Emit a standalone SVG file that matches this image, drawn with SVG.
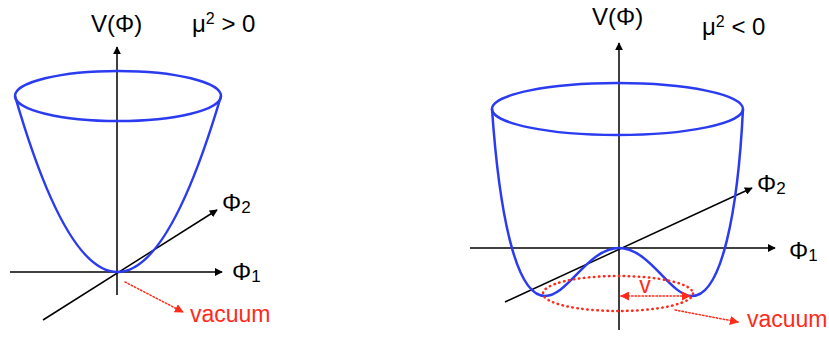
<svg xmlns="http://www.w3.org/2000/svg" width="829" height="340" viewBox="0 0 829 340">
<style>
.axis{stroke:#000;stroke-width:1.5;fill:none}
.curve{stroke:#2b3bf0;stroke-width:2.5;fill:none}
.red{stroke:#ff2a1a;fill:none;stroke-linecap:round}
text{font-family:"Liberation Sans",Arial,sans-serif;fill:#000}
.lbl{font-size:24px}
.vac{font-size:23px;fill:#ff2a1a}
</style>
<defs>
<marker id="ah" viewBox="0 0 10 10" refX="9" refY="5" markerWidth="8" markerHeight="8" markerUnits="userSpaceOnUse" orient="auto">
<path d="M0,0 L10,5 L0,10 z" fill="#000"/>
</marker>
<marker id="rh" viewBox="0 0 10 10" refX="9" refY="5" markerWidth="9" markerHeight="9" markerUnits="userSpaceOnUse" orient="auto-start-reverse">
<path d="M0,0 L10,5 L0,10 z" fill="#ff2a1a"/>
</marker>
</defs>
<g id="left">
<g id="left-axes">
<line class="axis" x1="117" y1="295" x2="117" y2="47" marker-end="url(#ah)"/>
<line class="axis" x1="10" y1="272" x2="222" y2="272" marker-end="url(#ah)"/>
<line class="axis" x1="43" y1="320" x2="217" y2="210" marker-end="url(#ah)"/>
</g>
<g id="left-bowl">
<ellipse class="curve" cx="118" cy="96" rx="103" ry="25"/>
<path class="curve" d="M15,96 Q117,448 221,96"/>
</g>
<g id="left-vacuum">
<line class="red" x1="125" y1="282" x2="183" y2="312" stroke-width="1.5" stroke-dasharray="1.5,2" marker-end="url(#rh)"/>
<text class="vac" x="190" y="322">vacuum</text>
</g>
<text class="lbl" x="91" y="32">V(Φ)</text>
<text class="lbl" x="192" y="32">μ<tspan font-size="16" dy="-8">2</tspan><tspan dy="8"> &gt; 0</tspan></text>
<text class="lbl" x="222" y="211">Φ<tspan font-size="17" dy="2">2</tspan></text>
<text class="lbl" x="232" y="280">Φ<tspan font-size="17" dy="2">1</tspan></text>
</g>
<g id="right">
<g id="right-axes">
<line class="axis" x1="619" y1="330" x2="619" y2="43" marker-end="url(#ah)"/>
<line class="axis" x1="470" y1="248" x2="775" y2="248" marker-end="url(#ah)"/>
<line class="axis" x1="505" y1="302" x2="752" y2="188" marker-end="url(#ah)"/>
</g>
<g id="right-bowl">
<ellipse class="curve" cx="617.5" cy="109" rx="125.5" ry="26"/>
<path class="curve" d="M492,109 C499,210 515,296 545,296 C568,296 588,248 619,248 C650,248 670,296 692,296 C722,296 738,210 743,109"/>
</g>
<g id="right-vacuum">
<ellipse class="red" cx="618" cy="293.5" rx="75" ry="17.5" stroke-width="2.5" stroke-dasharray="0.5,4.5"/>
<line class="red" x1="621" y1="296" x2="690" y2="296" stroke-width="1.5" stroke-dasharray="1.5,2" marker-start="url(#rh)" marker-end="url(#rh)"/>
<text class="vac" x="645" y="293" text-anchor="middle" font-size="20">v</text>
<line class="red" x1="675" y1="310" x2="738" y2="322" stroke-width="1.5" stroke-dasharray="1.5,2" marker-end="url(#rh)"/>
<text class="vac" x="747" y="327">vacuum</text>
</g>
<text class="lbl" x="592" y="25">V(Φ)</text>
<text class="lbl" x="702" y="35">μ<tspan font-size="16" dy="-8">2</tspan><tspan dy="8"> &lt; 0</tspan></text>
<text class="lbl" x="757" y="192">Φ<tspan font-size="17" dy="2">2</tspan></text>
<text class="lbl" x="789" y="259">Φ<tspan font-size="17" dy="2">1</tspan></text>
</g>
</svg>
